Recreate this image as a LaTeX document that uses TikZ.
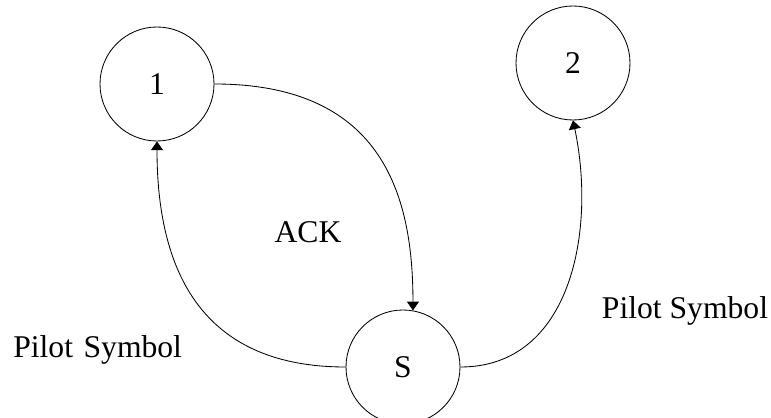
\documentclass[tikz,border=0pt]{standalone}
\usepackage{fontspec}
\setmainfont{Liberation Serif}
\usetikzlibrary{arrows.meta}

\begin{document}
\begin{tikzpicture}[>={Triangle[length=2.2mm,width=3mm]}, font=\fontsize{22.5}{27}\selectfont]
	\useasboundingbox (0,0) rectangle (19.275,10.45);

	\begin{scope}[every node/.style={circle, draw, line width=0.6pt, minimum size=2.85cm, inner sep=0pt}]
		\node (1) at (3.925,8.35) {1};
		\node (2) at (14.325,8.875) {2};
		\node (S) at (10.075,1.275) {S};
	\end{scope}

	\begin{scope}[every node/.style={fill=white, inner sep=0pt}]
		\node (ack) [minimum width=5.75cm, minimum height=1.8cm] at (7.7,4.65) {ACK};
		\node (pilotL) [anchor=west, text width=4.65cm, align=left, inner xsep=0.325cm, minimum height=1.85cm] at (0,1.7) {Pilot Symbol};
		\node (pilotR) at (17.125,2.68) {Pilot Symbol};
	\end{scope}

	\begin{scope}[line width=0.6pt]
		\draw[->] (S.west) to[out=180, in=-90, looseness=1.2] (1.south);
		\draw[->] (1.east) to[out=0, in=90, out looseness=1.45, in looseness=0.95] (S.80);
		\draw[->] (S.east) to[out=0, in=-78, looseness=1.05] (2.south);
	\end{scope}
\end{tikzpicture}
\end{document}
